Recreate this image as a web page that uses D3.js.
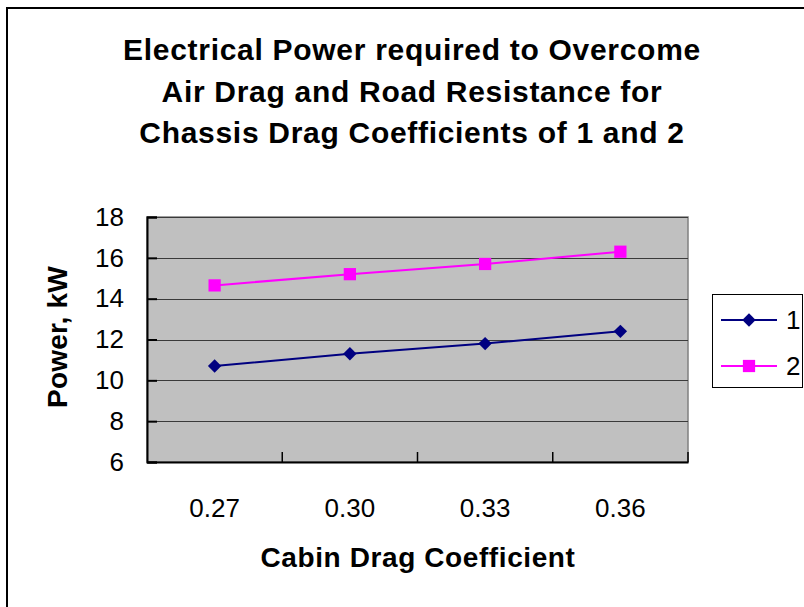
<!DOCTYPE html>
<html>
<head>
<meta charset="utf-8">
<script src="https://cdn.jsdelivr.net/npm/d3@7"></script>
<style>
  html, body { margin: 0; padding: 0; background: #fff; }
  svg { display: block; font-family: "Liberation Sans", Arial, sans-serif; }
</style>
</head>
<body>
<svg id="chart" width="804" height="607"></svg>
<script>
// Cabin drag coefficients on the category axis
const categories = ["0.27", "0.30", "0.33", "0.36"];
// Power (kW) for chassis drag coefficient 1 and 2
const series1 = [10.7, 11.3, 11.8, 12.4];
const series2 = [14.65, 15.2, 15.7, 16.3];
const seriesNames = ["1", "2"];
const yTicks = [6, 8, 10, 12, 14, 16, 18];
const titleLines = [
  "Electrical Power required to Overcome",
  "Air Drag and Road Resistance for",
  "Chassis Drag Coefficients of 1 and 2"
];

const svg = d3.select("#chart");

// outer chart frame
svg.append("rect")
  .attr("x", 7).attr("y", 8).attr("width", 820).attr("height", 620)
  .attr("fill", "#fff").attr("stroke", "#000").attr("stroke-width", 2);

const plot = { left: 147, top: 217, right: 688, bottom: 462 };

const x = d3.scaleBand().domain(categories).range([plot.left, plot.right]).padding(0);
const y = d3.scaleLinear().domain([6, 18]).range([plot.bottom, plot.top]);

// plot area background
svg.append("rect")
  .attr("x", plot.left).attr("y", plot.top)
  .attr("width", plot.right - plot.left).attr("height", plot.bottom - plot.top)
  .attr("fill", "#c0c0c0").attr("stroke", "#808080").attr("stroke-width", 1.5);

// horizontal gridlines
svg.append("g").selectAll("line")
  .data(yTicks.filter(d => d !== 6))
  .join("line")
  .attr("x1", plot.left).attr("x2", plot.right)
  .attr("y1", d => Math.round(y(d)) + 0.5).attr("y2", d => Math.round(y(d)) + 0.5)
  .attr("stroke", "#3a3a3a").attr("stroke-width", 1);

// y axis: ticks point into the plot
const yAxis = svg.append("g")
  .attr("transform", `translate(${plot.left},0)`)
  .call(d3.axisLeft(y).tickValues(yTicks).tickSize(-10).tickPadding(23).tickFormat(d3.format("d")));
yAxis.select(".domain").attr("stroke", "#000").attr("stroke-width", 2);
yAxis.selectAll(".tick line").attr("stroke", "#000").attr("stroke-width", 2);
yAxis.selectAll(".tick text")
  .attr("font-size", 26).attr("fill", "#000")
  .attr("font-family", "Liberation Sans, Arial, sans-serif");

// x axis: ticks sit on category boundaries and point up
const xAxis = svg.append("g")
  .attr("transform", `translate(0,${plot.bottom})`)
  .call(d3.axisBottom(x).tickSize(0).tickPadding(0));
xAxis.select(".domain").attr("stroke", "#000").attr("stroke-width", 2);
xAxis.selectAll(".tick text")
  .attr("font-size", 26).attr("fill", "#000").attr("dy", 0).attr("y", 55)
  .attr("font-family", "Liberation Sans, Arial, sans-serif");
const bounds = categories.map(c => x(c) + x.bandwidth());
xAxis.append("g").selectAll("line")
  .data(bounds)
  .join("line")
  .attr("x1", d => d).attr("x2", d => d)
  .attr("y1", 0).attr("y2", -10)
  .attr("stroke", "#000").attr("stroke-width", 1.5);

const cx = c => x(c) + x.bandwidth() / 2;
const line = d3.line().x((d, i) => cx(categories[i])).y(d => y(d));

// diamond = square turned 45 degrees
const styles = [
  { color: "#000080", shape: d3.symbolSquare, size: 90, rotate: 45 },
  { color: "#ff00ff", shape: d3.symbolSquare, size: 150, rotate: 0 }
];
[series1, series2].forEach((s, k) => {
  const st = styles[k];
  svg.append("path").datum(s)
    .attr("d", line).attr("fill", "none")
    .attr("stroke", st.color).attr("stroke-width", 2);
  svg.append("g").selectAll("path")
    .data(s)
    .join("path")
    .attr("transform", (d, i) => `translate(${cx(categories[i])},${y(d)}) rotate(${st.rotate})`)
    .attr("d", d3.symbol().type(st.shape).size(st.size))
    .attr("fill", st.color);
});

// legend
const lg = svg.append("g");
lg.append("rect")
  .attr("x", 712.5).attr("y", 294.5).attr("width", 90).attr("height", 93)
  .attr("fill", "#fff").attr("stroke", "#000").attr("stroke-width", 1);
seriesNames.forEach((name, k) => {
  const st = styles[k];
  const ly = 320 + k * 46;
  lg.append("line").attr("x1", 721).attr("x2", 777).attr("y1", ly).attr("y2", ly)
    .attr("stroke", st.color).attr("stroke-width", 2);
  lg.append("path").attr("transform", `translate(749,${ly}) rotate(${st.rotate})`)
    .attr("d", d3.symbol().type(st.shape).size(st.size)).attr("fill", st.color);
  lg.append("text").attr("x", 786).attr("y", ly + 9)
    .attr("font-size", 26).text(name);
});

// chart title
svg.append("g").selectAll("text")
  .data(titleLines)
  .join("text")
  .attr("x", 412).attr("y", (d, i) => 60 + i * 41.5)
  .attr("text-anchor", "middle")
  .attr("font-size", 30).attr("font-weight", "bold")
  .attr("letter-spacing", 0.7)
  .text(d => d);

// axis titles
svg.append("text")
  .attr("x", 418).attr("y", 567)
  .attr("text-anchor", "middle")
  .attr("font-size", 28).attr("font-weight", "bold")
  .attr("letter-spacing", 0.6)
  .text("Cabin Drag Coefficient");

svg.append("text")
  .attr("transform", "translate(67,337) rotate(-90)")
  .attr("text-anchor", "middle")
  .attr("font-size", 28).attr("font-weight", "bold")
  .attr("letter-spacing", 0.2)
  .text("Power, kW");
</script>
</body>
</html>
